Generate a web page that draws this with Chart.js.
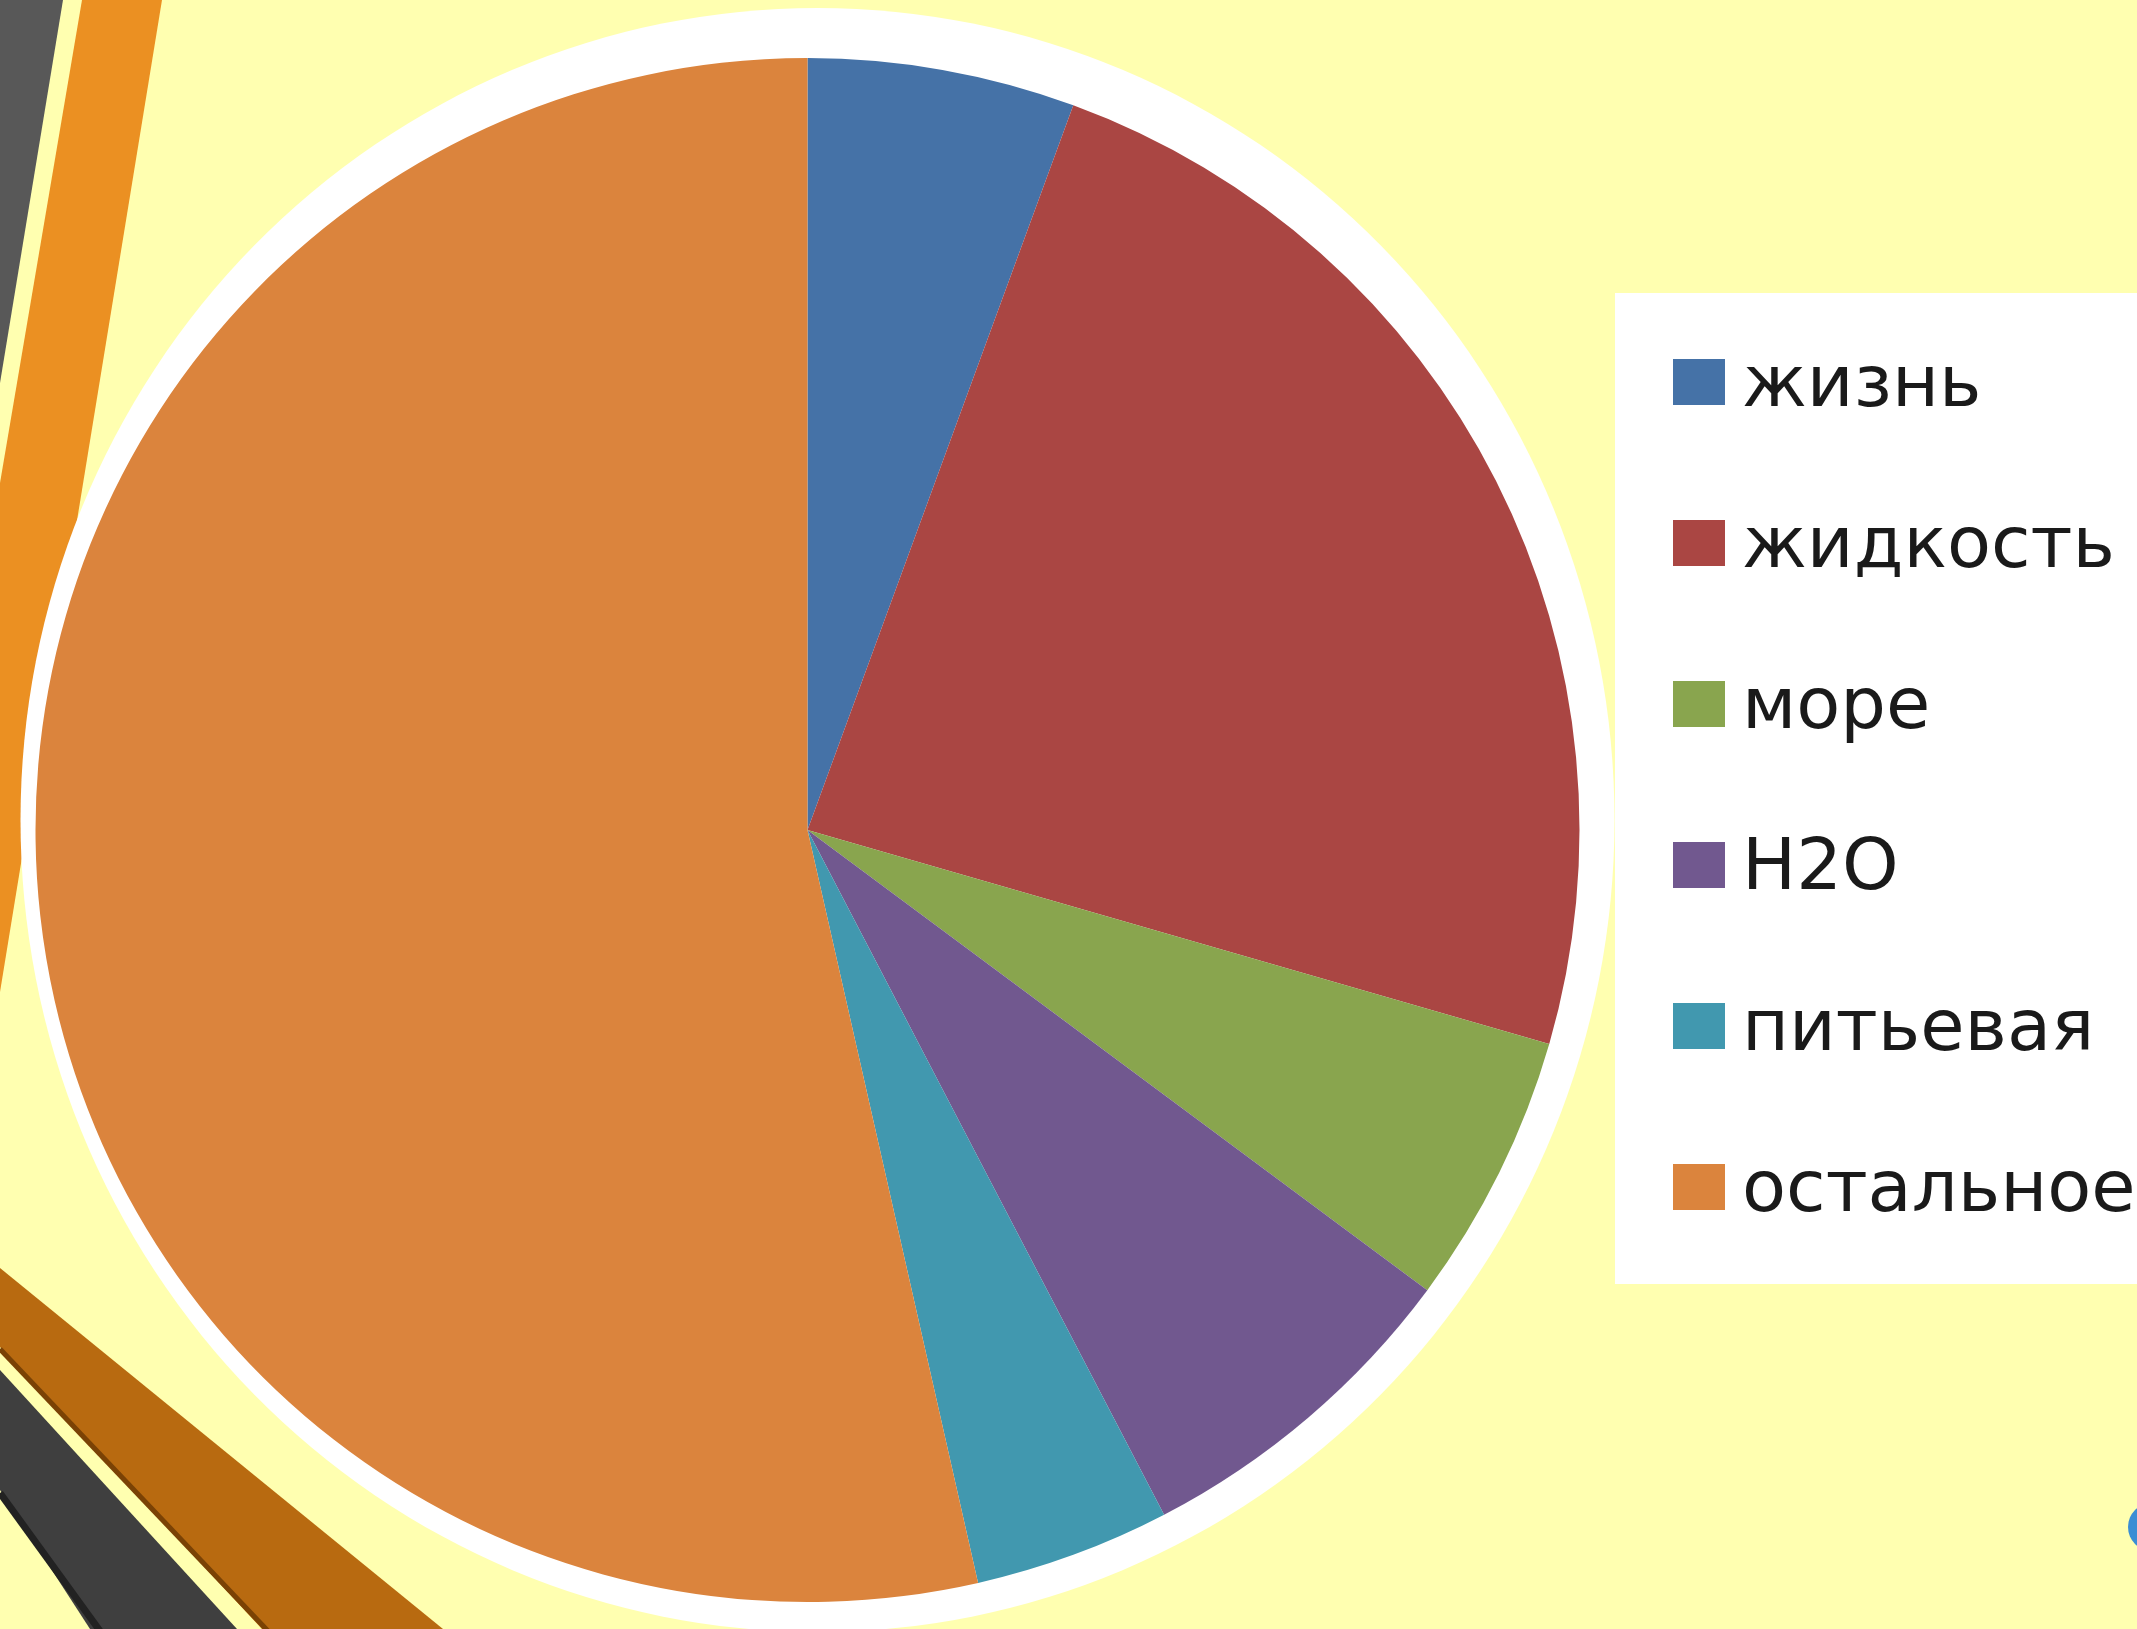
<!DOCTYPE html>
<html>
<head>
<meta charset="utf-8">
<script src="https://cdn.jsdelivr.net/npm/chart.js@4.4.0/dist/chart.umd.min.js"></script>
<style>
  html, body { margin: 0; padding: 0; overflow: hidden; background: #FFFFB0; }
  canvas { display: block; }
</style>
</head>
<body>
<canvas id="myChart" width="2137" height="1629"></canvas>
<script>
var labels = ["жизнь", "жидкость", "море", "H2O", "питьевая", "остальное"];
var shares = [5.6, 23.9, 5.7, 7.2, 4.1, 53.6];
var colors = ["#4572A7", "#AA4643", "#89A54E", "#71588F", "#4198AF", "#DB843D"];

// legend swatches (square sits a little above the text middle)
var swatches = colors.map(function (c) {
  var s = document.createElement("canvas");
  s.width = 52; s.height = 56;
  var g = s.getContext("2d");
  g.fillStyle = c;
  g.fillRect(0, 0, 52, 46);
  return s;
});

function poly(ctx, pts, fill) {
  ctx.beginPath();
  ctx.moveTo(pts[0][0], pts[0][1]);
  for (var i = 1; i < pts.length; i++) ctx.lineTo(pts[i][0], pts[i][1]);
  ctx.closePath();
  ctx.fillStyle = fill;
  ctx.fill();
}

function seg(ctx, a, b, w, col) {
  ctx.beginPath();
  ctx.moveTo(a[0], a[1]);
  ctx.lineTo(b[0], b[1]);
  ctx.lineWidth = w;
  ctx.strokeStyle = col;
  ctx.stroke();
}

// slide background, white disc behind the pie, white legend panel
var backdrop = {
  id: "backdrop",
  beforeDraw: function (chart) {
    var ctx = chart.ctx;
    ctx.save();
    ctx.fillStyle = "#FFFFB0";
    ctx.fillRect(0, 0, chart.width, chart.height);

    poly(ctx, [[0, 0], [63, 0], [0, 383]], "#585858");
    poly(ctx, [[82, 0], [162, 0], [0, 992], [0, 483]], "#EB9022");

    poly(ctx, [[0, 1268], [443, 1629], [262, 1629], [0, 1347]], "#B86A10");
    seg(ctx, [0, 1349], [268, 1631], 5, "#7A4205");
    poly(ctx, [[0, 1370], [237, 1629], [90, 1629], [0, 1490]], "#3F3F3F");
    seg(ctx, [0, 1493], [100, 1631], 7, "#222222");

    ctx.beginPath();
    ctx.arc(2152, 1527, 24, 0, 2 * Math.PI);
    ctx.fillStyle = "#3B8ED4";
    ctx.fill();

    var arc = chart.getDatasetMeta(0).data[0];
    if (arc) {
      ctx.beginPath();
      ctx.ellipse(arc.x + 10, arc.y - 10, arc.outerRadius + 25, arc.outerRadius + 40, 0, 0, 2 * Math.PI);
      ctx.fillStyle = "#FFFFFF";
      ctx.fill();
    }

    var lg = chart.legend;
    if (lg && lg.legendHitBoxes && lg.legendHitBoxes.length) {
      var hb = lg.legendHitBoxes;
      var top = hb[0].top - 58;
      var bottom = hb[hb.length - 1].top + hb[hb.length - 1].height + 56;
      ctx.fillStyle = "#FFFFFF";
      ctx.fillRect(lg.left + 12, top, chart.width, bottom - top);
    }
    ctx.restore();
  }
};

new Chart(document.getElementById("myChart"), {
  type: "pie",
  data: {
    labels: labels,
    datasets: [{
      data: shares,
      backgroundColor: colors,
      borderWidth: 0,
      radius: 772
    }]
  },
  options: {
    responsive: false,
    animation: false,
    events: [],
    layout: { padding: { left: 12, right: 0, top: 0, bottom: 50 } },
    plugins: {
      title: { display: true, text: "", font: { size: 1, lineHeight: 1 }, padding: { top: 0, bottom: 80 } },
      tooltip: { enabled: false },
      legend: {
        position: "right",
        maxWidth: 534,
        labels: {
          usePointStyle: true,
          pointStyleWidth: 14,
          boxHeight: 46,
          padding: 89,
          color: "#1a1a1a",
          font: { family: "'DejaVu Sans', sans-serif", size: 72 },
          generateLabels: function (chart) {
            var items = Chart.overrides.doughnut.plugins.legend.labels.generateLabels(chart);
            items.forEach(function (it, i) { it.pointStyle = swatches[i]; });
            return items;
          }
        }
      }
    }
  },
  plugins: [backdrop]
});
</script>
</body>
</html>
